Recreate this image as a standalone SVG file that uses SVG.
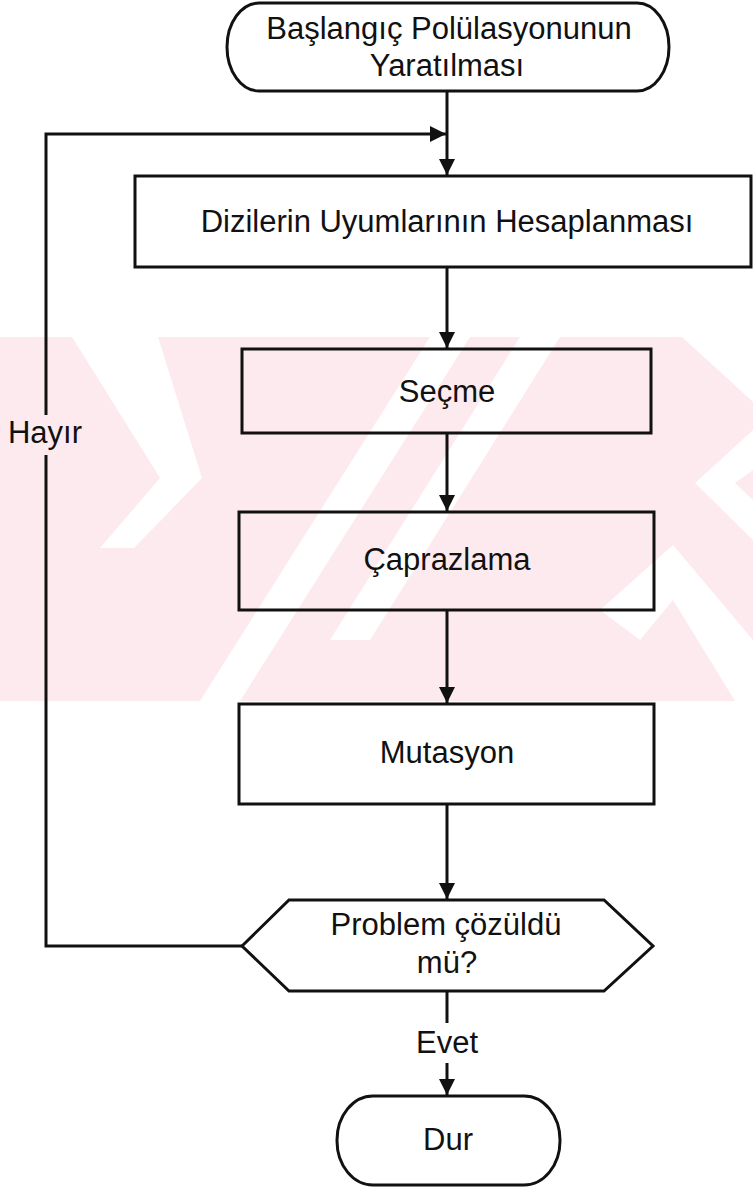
<svg xmlns="http://www.w3.org/2000/svg" width="753" height="1189" viewBox="0 0 753 1189">
  <style>
    .node { fill: none; stroke: #111; stroke-width: 3; }
    .edge { fill: none; stroke: #111; stroke-width: 3; }
    .lbl { font-family: "Liberation Sans", Arial, sans-serif; font-size: 31px; fill: #111; text-anchor: middle; }
    .wm { fill: #fdeaee; }
    .wmw { fill: #ffffff; }
  </style>
  <defs>
    <marker id="arr" markerUnits="userSpaceOnUse" markerWidth="16" markerHeight="16" viewBox="0 0 16 16" refX="16" refY="8" orient="auto">
      <path d="M0,0 L16,8 L0,16 z" fill="#111"/>
    </marker>
  </defs>
  <rect width="753" height="1189" fill="#fff"/>
  <g id="watermark">
    <rect class="wm" x="0" y="337" width="753" height="364"/>
    <polygon class="wmw" points="72,337 158,337 202,478 134,548 100,548 160,478"/>
    <polygon class="wmw" points="200,701 240,701 470,337 430,337"/>
    <polygon class="wmw" points="330,640 370,640 560,337 520,337"/>
    <polygon class="wmw" points="682,337 753,337 753,402"/>
    <polygon class="wmw" points="753,430 753,470 735,483 753,500 753,540 695,483"/>
    <polygon class="wmw" points="600,610 673,545 753,640 753,701 735,701 673,600 640,640"/>
  </g>
  <g id="connectors">
    <line class="edge" x1="447" y1="91" x2="447" y2="175" marker-end="url(#arr)"/>
    <polyline class="edge" points="242,946 46,946 46,455"/>
    <polyline class="edge" points="46,415 46,134 446,134" marker-end="url(#arr)"/>
    <line class="edge" x1="447" y1="267" x2="447" y2="348" marker-end="url(#arr)"/>
    <line class="edge" x1="447" y1="433" x2="447" y2="511" marker-end="url(#arr)"/>
    <line class="edge" x1="447" y1="610" x2="447" y2="703" marker-end="url(#arr)"/>
    <line class="edge" x1="447" y1="804" x2="447" y2="899" marker-end="url(#arr)"/>
    <line class="edge" x1="447" y1="991" x2="447" y2="1023"/>
    <line class="edge" x1="447" y1="1063" x2="447" y2="1095" marker-end="url(#arr)"/>
    <text class="lbl" x="45" y="443">Hayır</text>
    <text class="lbl" x="447" y="1053">Evet</text>
  </g>
  <g id="start">
    <rect class="node" x="227" y="3" width="442" height="88" rx="32" ry="44"/>
    <text class="lbl" x="449" y="39">Başlangıç Polülasyonunun</text>
    <text class="lbl" x="447" y="76">Yaratılması</text>
  </g>
  <g id="fitness">
    <rect class="node" x="135" y="176" width="616" height="91"/>
    <text class="lbl" x="447" y="232">Dizilerin Uyumlarının Hesaplanması</text>
  </g>
  <g id="selection">
    <rect class="node" x="242" y="349" width="409" height="84"/>
    <text class="lbl" x="447" y="402">Seçme</text>
  </g>
  <g id="crossover">
    <rect class="node" x="239" y="512" width="415" height="98"/>
    <text class="lbl" x="447" y="570">Çaprazlama</text>
  </g>
  <g id="mutation">
    <rect class="node" x="239" y="704" width="415" height="100"/>
    <text class="lbl" x="447" y="763">Mutasyon</text>
  </g>
  <g id="decision">
    <polygon class="node" points="242,946 289,900 604,900 653,946 604,991 289,991"/>
    <text class="lbl" x="446" y="935">Problem çözüldü</text>
    <text class="lbl" x="447" y="973">mü?</text>
  </g>
  <g id="stop">
    <rect class="node" x="337" y="1096" width="223" height="89" rx="36" ry="44"/>
    <text class="lbl" x="448" y="1150">Dur</text>
  </g>
</svg>
